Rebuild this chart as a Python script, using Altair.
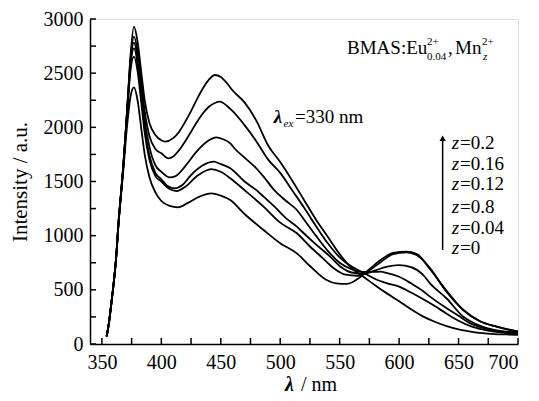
import altair as alt
import pandas as pd

# ---------------- data ----------------
rise_lam = [354, 356, 358, 360, 362, 364, 366, 368, 370, 372, 374]

lam_z0 = rise_lam + [377, 380, 383, 386, 390, 395, 400, 403, 410, 415, 420, 425, 430, 435, 440, 445, 450, 455, 460, 470, 480, 490, 500, 510, 520, 530, 540, 550, 560, 570, 580, 590, 600, 610, 620, 630, 640, 650, 660, 670, 680, 690, 700]
int_z0 = [70, 200, 380, 570, 800, 1120, 1380, 1640, 1950, 2300, 2650, 2929, 2790, 2520, 2250, 2040, 1930, 1880, 1868, 1900, 1960, 2050, 2150, 2260, 2360, 2440, 2483, 2465, 2410, 2340, 2230, 2060, 1830, 1680, 1510, 1330, 1150, 990, 830, 700, 621, 540, 465, 395, 320, 255, 205, 165, 135, 115, 100, 92, 88, 85]

lam_z004 = rise_lam + [377, 380, 383, 386, 390, 395, 400, 406, 410, 415, 420, 425, 430, 435, 440, 445, 449, 458, 470, 480, 490, 500, 510, 520, 530, 540, 550, 560, 570, 580, 590, 600, 610, 620, 630, 640, 650, 660, 670, 680, 690, 700]
int_z004 = [70, 200, 380, 570, 800, 1120, 1380, 1640, 1950, 2290, 2620, 2837, 2700, 2430, 2150, 1920, 1800, 1760, 1714, 1730, 1790, 1870, 1960, 2050, 2130, 2190, 2225, 2237, 2170, 2020, 1870, 1700, 1580, 1420, 1260, 1090, 930, 800, 715, 658, 600, 560, 529, 475, 415, 350, 280, 215, 165, 135, 115, 103, 97]

lam_z008 = rise_lam + [377, 380, 383, 386, 390, 395, 400, 407, 412, 420, 430, 440, 446, 452, 458, 462, 470, 480, 486, 495, 505, 514, 520, 530, 540, 550, 560, 570, 580, 584, 590, 600, 610, 620, 626, 640, 650, 660, 670, 680, 690, 700]
int_z008 = [70, 200, 380, 570, 800, 1120, 1380, 1640, 1950, 2280, 2590, 2781, 2640, 2360, 2070, 1820, 1650, 1590, 1538, 1550, 1640, 1780, 1880, 1908, 1890, 1852, 1800, 1720, 1620, 1545, 1420, 1320, 1237, 1150, 1000, 860, 750, 690, 665, 665, 668, 655, 621, 560, 490, 437, 330, 260, 190, 150, 125, 110, 100]

lam_z012 = rise_lam + [377, 380, 383, 386, 390, 395, 400, 405, 411, 418, 425, 435, 444, 450, 458, 470, 480, 486, 495, 505, 514, 520, 530, 542, 550, 560, 570, 580, 590, 600, 610, 620, 626, 640, 654, 660, 670, 680, 690, 700]
int_z012 = [70, 200, 380, 570, 800, 1120, 1380, 1640, 1950, 2270, 2560, 2729, 2590, 2300, 2000, 1740, 1580, 1520, 1460, 1437, 1470, 1560, 1650, 1683, 1660, 1622, 1500, 1420, 1360, 1270, 1160, 1083, 1020, 920, 806, 720, 660, 650, 680, 715, 729, 710, 640, 560, 420, 252, 210, 160, 130, 115, 105]

lam_z016 = rise_lam + [377, 380, 383, 386, 390, 395, 400, 407, 413, 420, 430, 442, 450, 458, 470, 486, 500, 514, 525, 535, 545, 555, 565, 575, 585, 595, 606, 615, 626, 640, 654, 668, 682, 700]
int_z016 = [70, 200, 380, 570, 800, 1120, 1380, 1640, 1950, 2250, 2520, 2652, 2520, 2240, 1950, 1700, 1550, 1500, 1430, 1412, 1450, 1550, 1615, 1590, 1530, 1420, 1268, 1120, 1022, 900, 800, 700, 640, 630, 680, 760, 830, 845, 820, 700, 480, 314, 210, 160, 114]

lam_z02 = rise_lam + [377, 380, 383, 386, 390, 395, 400, 407, 414, 422, 432, 442, 450, 458, 470, 486, 500, 514, 525, 539, 547, 556, 565, 575, 585, 595, 606, 615, 626, 640, 654, 668, 682, 700]
int_z02 = [70, 200, 380, 570, 800, 1110, 1360, 1600, 1870, 2100, 2280, 2369, 2250, 2000, 1750, 1540, 1400, 1320, 1275, 1262, 1300, 1360, 1391, 1370, 1329, 1200, 1052, 930, 837, 720, 591, 560, 555, 600, 690, 780, 840, 852, 830, 690, 490, 314, 210, 160, 114]

series = [("z=0", lam_z0, int_z0), ("z=0.04", lam_z004, int_z004), ("z=0.08", lam_z008, int_z008),
          ("z=0.12", lam_z012, int_z012), ("z=0.16", lam_z016, int_z016), ("z=0.2", lam_z02, int_z02)]

legend_values = ["0.2", "0.16", "0.12", "0.8", "0.04", "0"]
legend_y = [1869, 1677, 1489, 1283, 1089, 898]

x_ticks = list(range(350, 701, 25))
y_ticks = list(range(0, 3001, 250))
x_labels = list(range(350, 701, 50))
y_labels = list(range(0, 3001, 500))

rows = []
for name, lams, ints in series:
    for l, v in zip(lams, ints):
        rows.append({"curve": name, "lam": l, "I": v})
df = pd.DataFrame(rows)

FONT = "'Liberation Serif', 'DejaVu Serif', serif"
W, H = 428, 325
xs = alt.Scale(domain=[340, 700], nice=False, zero=False)
ys = alt.Scale(domain=[0, 3000], nice=False, zero=False)

XAX = alt.Axis(title=None, values=x_labels, ticks=False, grid=False, format="d",
               labelFont=FONT, labelFontSize=20, labelColor="black", labelPadding=8,
               domainColor="black", domainWidth=1.5)
YAX = alt.Axis(title="Intensity / a.u.", values=y_labels, ticks=False, grid=False, format="d",
               labelFont=FONT, labelFontSize=20, labelColor="black", labelPadding=7,
               titleFont=FONT, titleFontSize=21, titleFontWeight="normal", titleColor="black",
               titleX=-70, titleY=H / 2, titleAngle=-90, titleBaseline="middle", titleAlign="center",
               domainColor="black", domainWidth=1.5)

def X(f):
    return alt.X(f, scale=xs, axis=XAX, title=None)

def Y(f):
    return alt.Y(f, scale=ys, axis=YAX, title="Intensity / a.u.")

lines = alt.Chart(df).mark_line(color="black", strokeWidth=1.8, interpolate="monotone").encode(
    x=X("lam:Q"), y=Y("I:Q"), detail="curve:N")

xt = alt.Chart(pd.DataFrame({"lam": x_ticks})).mark_rule(color="black", strokeWidth=1.5).encode(
    x=X("lam:Q"), y=alt.value(H), y2=alt.value(H - 6))
yt = alt.Chart(pd.DataFrame({"I": y_ticks})).mark_rule(color="black", strokeWidth=1.5).encode(
    y=Y("I:Q"), x=alt.value(0), x2=alt.value(6))

def txt(items, size=19, style="normal", weight="normal"):
    d = pd.DataFrame(items, columns=["lam", "I", "s"])
    return alt.Chart(d).mark_text(font=FONT, fontSize=size, fontStyle=style, fontWeight=weight,
                                  align="left", baseline="alphabetic", color="black").encode(
        x=X("lam:Q"), y=Y("I:Q"), text="s:N")

ann_main = txt([(556.2, 2677, "BMAS:Eu"), (641.1, 2677, ","), (647.0, 2677, "Mn"),
                (512.4, 2043, "=330 nm")] +
               [(651.2, v - 70, "=" + s) for s, v in zip(legend_values, legend_y)])
ann_small = txt([(623.5, 2760, "2+"), (623.5, 2620, "0.04"), (669.7, 2760, "2+")], size=11)
ann_small_it = txt([(670.6, 2620, "z"), (502.8, 2005, "ex")], size=11, style="italic")
ann_lam = txt([(494.5, 2043, "λ")], style="italic", weight="bold")
ann_z = txt([(644.2, v - 70, "z") for v in legend_y], style="italic")

xtitle_l = alt.Chart(pd.DataFrame({"s": ["λ"]})).mark_text(
    font=FONT, fontSize=20, fontStyle="italic", fontWeight="bold", align="left",
    baseline="alphabetic", color="black").encode(x=alt.value(195), y=alt.value(H + 47), text="s:N")
xtitle_r = alt.Chart(pd.DataFrame({"s": ["/ nm"]})).mark_text(
    font=FONT, fontSize=20, align="left", baseline="alphabetic", color="black").encode(
    x=alt.value(211), y=alt.value(H + 47), text="s:N")

arrow_df = pd.DataFrame({"lam": [636.6], "I": [868], "I2": [1880]})
arrow = alt.Chart(arrow_df).mark_rule(color="black", strokeWidth=1.5).encode(
    x=X("lam:Q"), y=Y("I:Q"), y2="I2:Q")
head = alt.Chart(pd.DataFrame({"lam": [636.6], "I": [1900]})).mark_point(
    shape="triangle-up", filled=True, color="black", size=40, opacity=1).encode(
    x=X("lam:Q"), y=Y("I:Q"))

chart = alt.layer(lines, xt, yt, ann_main, ann_small, ann_small_it, ann_lam, ann_z,
                  xtitle_l, xtitle_r, arrow, head).properties(
    width=W, height=H,
    autosize=alt.AutoSizeParams(type="none"),
    padding={"left": 82, "top": 11, "right": 13, "bottom": 56},
).configure_view(stroke="black", strokeWidth=1.5).configure(background="white")

chart.save("out.html", embed_options={"renderer": "svg", "actions": False})
